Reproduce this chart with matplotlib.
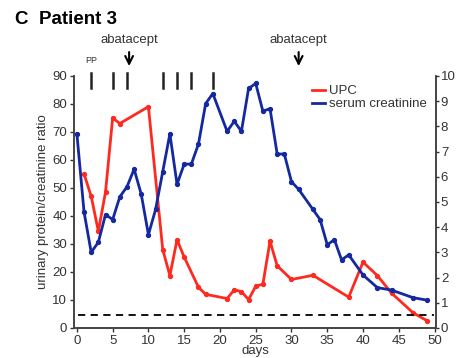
import matplotlib.pyplot as plt
from matplotlib.lines import Line2D

# UPC (left axis)
upc_days = [1, 2, 3, 4, 5, 6, 10, 12, 13, 14, 15, 17, 18, 21, 22, 23, 24, 25, 26,
            27, 28, 30, 33, 38, 40, 42, 44, 47, 49]
upc_vals = [55, 47, 34.5, 48.5, 75, 73, 79, 28, 18.7, 31.5, 25.3, 14.5, 12, 10.5,
            13.6, 13, 10.1, 14.9, 15.6, 31, 22.2, 17.3, 18.8, 11, 23.5, 18.7,
            12.4, 5.4, 2.5]

# serum creatinine (right axis)
cr_days = [0, 1, 2, 3, 4, 5, 6, 7, 8, 9, 10, 11, 12, 13, 14, 15, 16, 17, 18, 19,
           21, 22, 23, 24, 25, 26, 27, 28, 29, 30, 31, 33, 34, 35, 36, 37, 38,
           40, 42, 44, 47, 49]
cr_vals = [7.7, 4.6, 3.0, 3.4, 4.5, 4.3, 5.2, 5.6, 6.3, 5.3, 3.7, 4.7, 6.2, 7.7,
           5.7, 6.5, 6.5, 7.3, 8.9, 9.3, 7.8, 8.2, 7.8, 9.5, 9.7, 8.6, 8.7, 6.9,
           6.9, 5.8, 5.5, 4.7, 4.3, 3.3, 3.5, 2.7, 2.9, 2.1, 1.6, 1.5, 1.2, 1.1]

pp_days = [2, 5, 7, 12, 14, 16, 19]
abatacept_days = [7.3, 31]
normal_cr = 0.5

red = "#ff2a1f"
blue = "#1428a0"
grey = "#333333"

plt.rcParams["font.family"] = "Liberation Sans"
plt.rcParams["text.color"] = grey
plt.rcParams["axes.labelcolor"] = grey
plt.rcParams["xtick.color"] = grey
plt.rcParams["ytick.color"] = grey

fig = plt.figure(figsize=(4.57, 3.58), dpi=100)
ax = fig.add_axes([0.162, 0.084, 0.792, 0.704])
ax2 = ax.twinx()

ax.plot(upc_days, upc_vals, color=red, lw=2, marker="o", ms=2.8, zorder=3)
ax2.plot(cr_days, cr_vals, color=blue, lw=2, marker="o", ms=2.8, zorder=3)
ax2.axhline(normal_cr, xmin=0.01, xmax=0.995, color="black", lw=1.3, ls=(0, (4, 3)))

ax.set_xlim(-0.4, 50.2)
ax.set_ylim(0, 90)
ax2.set_ylim(0, 10)
ax.set_xticks(range(0, 51, 5))
ax.set_yticks(range(0, 91, 10))
ax2.set_yticks(range(0, 11))

for a in (ax, ax2):
    a.spines["top"].set_visible(False)
    for s in a.spines.values():
        s.set_color("#444444")
        s.set_linewidth(1.2)
    a.tick_params(labelsize=9.5, length=3, width=1, pad=2)
ax2.tick_params(length=2.5, pad=1)

ax.set_xlabel("days", fontsize=9.5, labelpad=-1)
ax.set_ylabel("urinary protein/creatinine ratio", fontsize=9.5, labelpad=2)

# plasmapheresis marks above the data
for d in pp_days:
    ax.plot([d, d], [85.5, 91], color="#222222", lw=1.8, clip_on=False, zorder=4)
ax.text(pp_days[0], 94, "PP", fontsize=6.5, ha="center", va="bottom")

# abatacept arrows
for d in abatacept_days:
    ax.annotate("", xy=(d, 92.5), xytext=(d, 99.5),
                arrowprops=dict(arrowstyle="->", color="black", lw=1.5,
                                mutation_scale=14),
                annotation_clip=False)
    ax.text(d, 100.5, "abatacept", fontsize=9.5, ha="center", va="bottom")

handles = [Line2D([], [], color=red, lw=2), Line2D([], [], color=blue, lw=2)]
ax2.legend(handles, ["UPC", "serum creatinine"], loc="upper right",
           bbox_to_anchor=(1.0, 1.0), frameon=False, fontsize=9.5,
           handlelength=1.0, handletextpad=0.3, labelspacing=0.05,
           borderaxespad=0.3)

fig.text(0.033, 0.945, "C  Patient 3", fontsize=13.5, fontweight="bold",
         color="black", va="center")

fig.savefig("out.png", dpi=100)
